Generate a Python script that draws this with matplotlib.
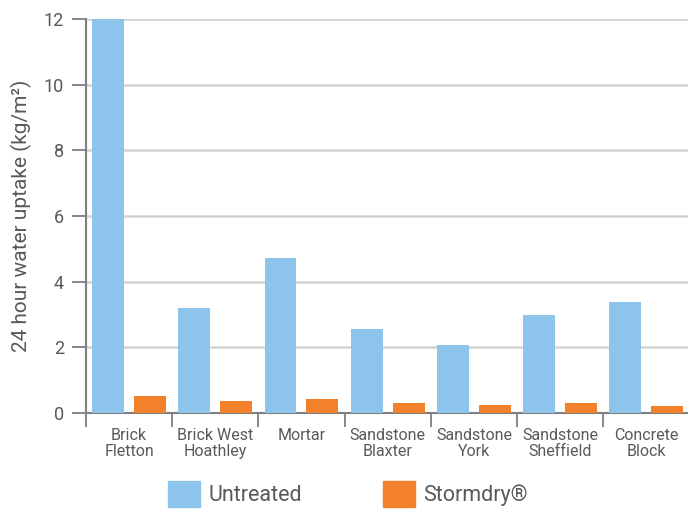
import numpy as np
import matplotlib.pyplot as plt
from matplotlib.patches import Patch

plt.rcParams['font.family'] = ['Roboto', 'DejaVu Sans']

# data
categories = ['Brick\nFletton', 'Brick West\nHoathley', 'Mortar', 'Sandstone\nBlaxter',
              'Sandstone\nYork', 'Sandstone\nSheffield', 'Concrete\nBlock']
untreated = [12.0, 3.21, 4.73, 2.57, 2.08, 3.00, 3.39]
stormdry = [0.53, 0.38, 0.44, 0.31, 0.25, 0.31, 0.22]
yticks = [0, 2, 4, 6, 8, 10, 12]
series_names = ['Untreated', 'Stormdry®']

blue = '#8dc4eb'
orange = '#f3812c'
textc = '#58595b'
axisc = '#7d8083'

fig = plt.figure(figsize=(6.88, 5.09), dpi=100)
ax = fig.add_axes([0.125, 0.1886, 0.877, 0.774])

x = np.arange(len(categories))
w = 0.37
ax.bar(x - 0.243, untreated, w, color=blue, zorder=3)
ax.bar(x + 0.243, stormdry, w, color=orange, zorder=3)

ax.set_xlim(-0.5, len(categories) - 0.5)
ax.set_ylim(0, 12)
ax.set_yticks(yticks)
ax.set_yticklabels([str(t) for t in yticks])
ax.yaxis.grid(True, color='#d2d2d2', linewidth=1.8, zorder=0)

ax.set_xticks(x)
ax.set_xticklabels(categories, fontsize=11.5, color=textc, linespacing=1.05)
ax.set_xticks(np.arange(len(categories) + 1) - 0.5, minor=True)
ax.tick_params(axis='x', which='major', length=0, pad=11)
ax.tick_params(axis='x', which='minor', length=10, width=1.3, color=axisc)
ax.tick_params(axis='y', length=10, width=1.3, color=axisc, labelsize=13,
               labelcolor=textc, pad=6)

for s in ['top', 'right']:
    ax.spines[s].set_visible(False)
for s in ['left', 'bottom']:
    ax.spines[s].set_color(axisc)
    ax.spines[s].set_linewidth(1.5)

ax.set_ylabel('24 hour water uptake (kg/m²)', fontsize=15, color=textc, labelpad=8)

# legend: one entry each, placed under the chart, squares cut by the bottom edge
for name, col, xpos in [(series_names[0], blue, 168), (series_names[1], orange, 383)]:
    fig.legend(handles=[Patch(color=col, label=name)], loc='upper left',
               bbox_to_anchor=(xpos / 688, 1 - 481 / 509), frameon=False,
               fontsize=15.5, labelcolor=textc, handlelength=1.48, handleheight=1.45,
               handletextpad=0.4, borderpad=0, borderaxespad=0)

fig.savefig('out.png', dpi=100)
